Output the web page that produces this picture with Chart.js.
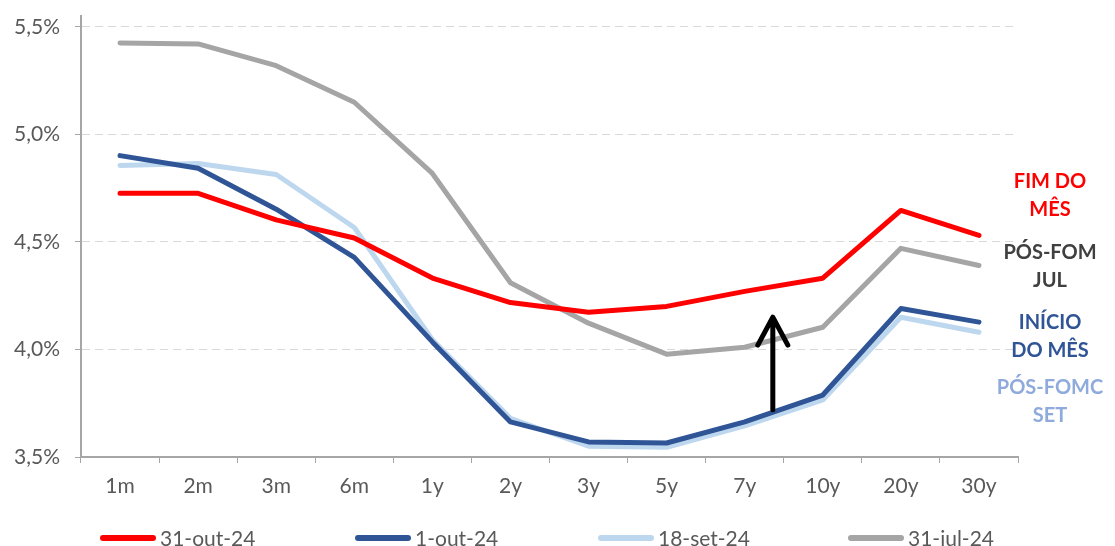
<!DOCTYPE html>
<html>
<head>
<meta charset="utf-8">
<script src="https://cdn.jsdelivr.net/npm/chart.js@4.4.1/dist/chart.umd.min.js"></script>
<style>
	body { margin: 0; background: #fff; }
	#wrap { width: 1115px; height: 546px; }
</style>
</head>
<body>
<div id="wrap"><canvas id="curveChart" width="1115" height="546"></canvas></div>
<script>
	//maturities on the x axis
	var maturities = ['1m', '2m', '3m', '6m', '1y', '2y', '3y', '5y', '7y', '10y', '20y', '30y'];

	//curves, in %
	var curve_31out = [4.726, 4.726, 4.602, 4.518, 4.332, 4.218, 4.173, 4.200, 4.270, 4.331, 4.646, 4.530];
	var curve_1out = [4.901, 4.842, 4.652, 4.428, 4.035, 3.663, 3.570, 3.565, 3.663, 3.788, 4.190, 4.127];
	var curve_18set = [4.855, 4.864, 4.813, 4.567, 4.045, 3.680, 3.550, 3.545, 3.645, 3.765, 4.150, 4.080];
	var curve_31jul = [5.425, 5.420, 5.319, 5.149, 4.818, 4.310, 4.122, 3.978, 4.010, 4.103, 4.470, 4.390];

	var series_names = ['31-out-24', '1-out-24', '18-set-24', '31-jul-24'];
	var end_labels = [['FIM DO', 'MÊS'], ['PÓS-FOM', 'JUL'], ['INÍCIO', 'DO MÊS'], ['PÓS-FOMC', 'SET']];

	var font_family = 'Lato, "Open Sans", sans-serif';
	var text_color = '#595959';
	var axis_color = '#A6A6A6';

	//labels at the right end of the curves
	var endLabelsPlugin = {
		id: 'endLabels',
		afterDraw: function(chart, args, opts) {
			var c = chart.ctx;
			var y = chart.scales.y;
			c.save();
			c.font = 'bold 20px ' + font_family;
			c.textAlign = 'center';
			c.textBaseline = 'middle';
			opts.items.forEach(function(item) {
				var cy = y.getPixelForValue(item.value);
				c.fillStyle = item.color;
				c.fillText(item.lines[0], opts.x, cy - 14);
				c.fillText(item.lines[1], opts.x, cy + 14);
			});
			c.restore();
		}
	};

	//the up arrow between 7y and 10y
	var arrowPlugin = {
		id: 'arrow',
		afterDatasetsDraw: function(chart, args, opts) {
			var c = chart.ctx;
			var px = chart.scales.x.getPixelForValue(opts.at);
			var y0 = chart.scales.y.getPixelForValue(opts.from);
			var y1 = chart.scales.y.getPixelForValue(opts.to);
			c.save();
			c.strokeStyle = '#000';
			c.lineWidth = 5;
			c.lineCap = 'round';
			c.lineJoin = 'round';
			c.beginPath();
			c.moveTo(px, y0);
			c.lineTo(px, y1);
			c.moveTo(px - 15, y1 + 28);
			c.lineTo(px, y1);
			c.lineTo(px + 15, y1 + 28);
			c.stroke();
			c.restore();
		}
	};

	//legend row at the bottom
	var legendPlugin = {
		id: 'bottomLegend',
		afterDraw: function(chart, args, opts) {
			var c = chart.ctx;
			c.save();
			c.font = '21px ' + font_family;
			c.textBaseline = 'middle';
			c.lineCap = 'round';
			c.lineWidth = 6;
			chart.data.datasets.forEach(function(ds, i) {
				var x = opts.starts[i];
				c.strokeStyle = ds.borderColor;
				c.beginPath();
				c.moveTo(x + 3, opts.y);
				c.lineTo(x + 53, opts.y);
				c.stroke();
				c.fillStyle = text_color;
				c.fillText(ds.label, x + 60, opts.y + 1);
			});
			c.restore();
		}
	};

	function makeSet(label, data, color) {
		return {
			label: label,
			data: data,
			borderColor: color,
			backgroundColor: color,
			borderWidth: 5,
			borderCapStyle: 'round',
			borderJoinStyle: 'round',
			pointRadius: 0,
			tension: 0
		};
	}

	var ctx = document.getElementById('curveChart');
	var curveChart = new Chart(ctx, {
		type: 'line',
		data: {
			labels: maturities,
			datasets: [
				makeSet(series_names[0], curve_31out, '#FF0000'),
				makeSet(series_names[1], curve_1out, '#2F5597'),
				makeSet(series_names[2], curve_18set, '#BDD7EE'),
				makeSet(series_names[3], curve_31jul, '#A5A5A5')
			]
		},
		options: {
			responsive: false,
			animation: false,
			layout: { padding: { top: 16, right: 97, bottom: 0, left: 0 } },
			plugins: {
				legend: { display: false },
				tooltip: { enabled: false },
				endLabels: {
					x: 1050,
					items: [
						{ lines: end_labels[0], value: 4.716, color: '#FF0000' },
						{ lines: end_labels[1], value: 4.384, color: '#404040' },
						{ lines: end_labels[2], value: 4.061, color: '#2F5597' },
						{ lines: end_labels[3], value: 3.760, color: '#8FAADC' }
					]
				},
				arrow: { at: 8.36, from: 3.72, to: 4.15 },
				bottomLegend: { y: 538, starts: [100, 355, 598, 848] }
			},
			scales: {
				x: {
					offset: true,
					afterFit: function(scale) {
						scale.height = 89;
						scale.paddingLeft = 0;
						scale.paddingRight = 0;
					},
					grid: {
						offset: true,
						drawOnChartArea: false,
						color: axis_color,
						tickLength: 6
					},
					border: { color: axis_color, width: 2 },
					ticks: {
						color: text_color,
						font: { family: font_family, size: 21 },
						padding: 11,
						maxRotation: 0
					}
				},
				y: {
					min: 3.5,
					max: 5.55,
					afterFit: function(scale) {
						scale.width = 81;
						scale.paddingTop = 0;
						scale.paddingBottom = 0;
					},
					grid: {
						color: '#D9D9D9',
						tickColor: axis_color,
						tickBorderDash: [],
						tickLength: 6
					},
					border: { color: axis_color, width: 2, dash: [8, 5] },
					ticks: {
						stepSize: 0.5,
						includeBounds: false,
						color: text_color,
						padding: 15,
						font: { family: font_family, size: 21 },
						callback: function(v) { return v.toFixed(1).replace('.', ',') + '%'; }
					}
				}
			}
		},
		plugins: [endLabelsPlugin, arrowPlugin, legendPlugin]
	});
</script>
</body>
</html>
